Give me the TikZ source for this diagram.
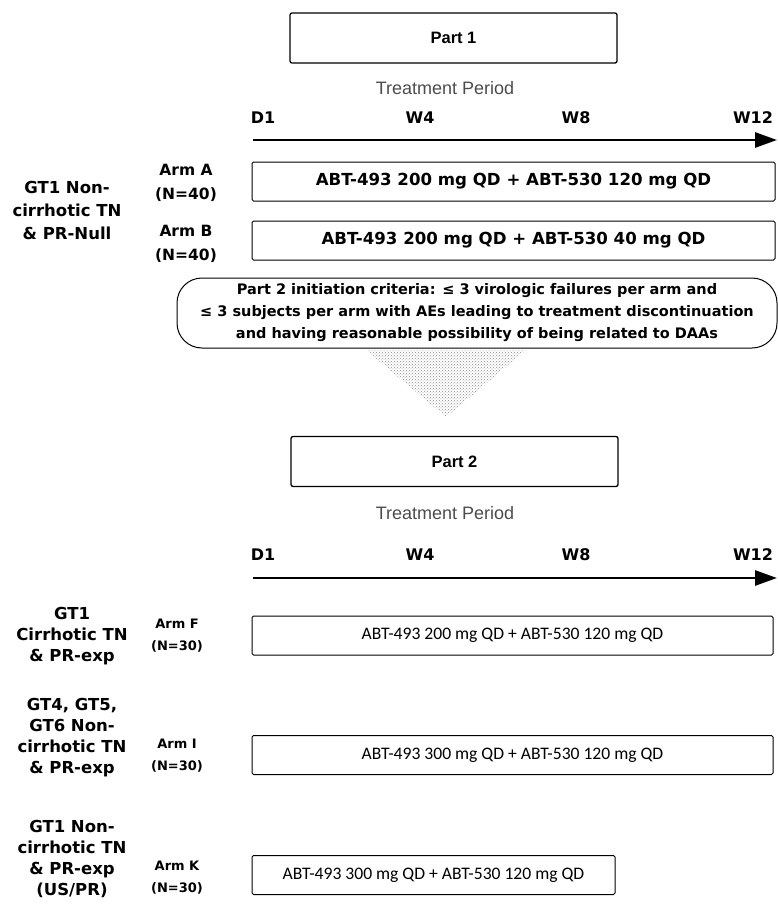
\documentclass[tikz,border=0pt]{standalone}
\usepackage{fontspec}
\setmainfont{Liberation Sans}
\newfontfamily\calib{Carlito}
\newfontfamily\dvb{DejaVu Sans}[BoldFont={DejaVu Sans Bold}]
\usetikzlibrary{arrows.meta,patterns}
\begin{document}
\begin{tikzpicture}[x=1pt,y=-1pt,
  partbox/.style={draw, line width=1.3pt, rounded corners=2pt, minimum width=327pt, minimum height=50pt, inner sep=0pt, font=\bfseries\fontsize{16.5}{18}\selectfont},
  armbox/.style={draw, line width=1pt, rounded corners=1.5pt, minimum width=523pt, minimum height=39pt, inner sep=0pt},
  armtxt/.style={font=\dvb\bfseries\fontsize{16.6}{18}\selectfont},
  armtxtb/.style={font=\calib\fontsize{17.6}{19}\selectfont},
  tick/.style={font=\dvb\bfseries\fontsize{16}{18}\selectfont},
  period/.style={font=\fontsize{18}{20}\selectfont, text=black!70},
  lbl/.style={align=center, font=\dvb\bfseries\fontsize{16.5}{23}\selectfont, inner sep=0pt},
  lblb/.style={align=center, font=\dvb\bfseries\fontsize{16.5}{21}\selectfont, inner sep=0pt},
  armlbl/.style={align=center, font=\dvb\bfseries\fontsize{15.5}{24}\selectfont, inner sep=0pt},
  armlblb/.style={align=center, font=\dvb\bfseries\fontsize{13}{22}\selectfont, inner sep=0pt},
  timeline/.style={line width=2.8pt, -{Triangle[length=22pt,width=15pt]}}
]
\useasboundingbox (0,0) rectangle (778,918);

% ---------- Part 1 ----------
\node[partbox] (p1) at (453.5,38) {Part 1};
\node[period] (tp1) at (445,88) {Treatment Period};
\node[tick] (d1a) at (263,118) {D1};
\node[tick] (w4a) at (420,118) {W4};
\node[tick] (w8a) at (576,118) {W8};
\node[tick] (w12a) at (753,118) {W12};
\coordinate (t1s) at (253,140);
\coordinate (t1e) at (777,140);
\draw[timeline] (t1s) -- (t1e);

\node[lbl] (g1) at (67,210) {GT1 Non-\\cirrhotic TN\\\& PR-Null};
\node[armlbl] (la) at (186,183) {Arm A\\(N=40)};
\node[armlbl] (lb) at (186,244) {Arm B\\(N=40)};
\node[armbox, armtxt] (ba) at (513.5,181.5) {ABT-493 200 mg QD + ABT-530 120 mg QD};
\node[armbox, armtxt] (bb) at (513.5,240.5) {ABT-493 200 mg QD + ABT-530 40 mg QD};

% ---------- transition ----------
\fill[pattern=crosshatch dots, pattern color=black!45] (366,350) -- (526,350) -- (446,417) -- cycle;
\node[draw, line width=1pt, rounded corners=25pt, minimum width=600pt, minimum height=70pt, fill=white, inner sep=0pt, align=center, font=\dvb\bfseries\fontsize{14.5}{22}\selectfont] (crit) at (477,313)
 {Part 2 initiation criteria: ≤ 3 virologic failures per arm and\\
  ≤ 3 subjects per arm with AEs leading to treatment discontinuation\\
  and having reasonable possibility of being related to DAAs};

% ---------- Part 2 ----------
\node[partbox] (p2) at (454.5,461.5) {Part 2};
\node[period] (tp2) at (445,513) {Treatment Period};
\node[tick] (d1b) at (263,555) {D1};
\node[tick] (w4b) at (420,555) {W4};
\node[tick] (w8b) at (576,555) {W8};
\node[tick] (w12b) at (753,555) {W12};
\coordinate (t2s) at (253,578);
\coordinate (t2e) at (777,578);
\draw[timeline] (t2s) -- (t2e);

\node[lblb] (gf) at (72,636) {GT1\\Cirrhotic TN\\\& PR-exp};
\node[lblb] (gi) at (72,738) {GT4, GT5,\\GT6 Non-\\cirrhotic TN\\\& PR-exp};
\node[lblb] (gk) at (72,859) {GT1 Non-\\cirrhotic TN\\\& PR-exp\\(US/PR)};
\node[armlblb] (lf) at (177,636) {Arm F\\(N=30)};
\node[armlblb] (li) at (177,756) {Arm I\\(N=30)};
\node[armlblb] (lk) at (177,878) {Arm K\\(N=30)};
\node[armbox, minimum width=521pt, armtxtb] (bf) at (512.5,635.5) {ABT-493 200 mg QD + ABT-530 120 mg QD};
\node[armbox, minimum width=521pt, armtxtb] (bi) at (512.5,755) {ABT-493 300 mg QD + ABT-530 120 mg QD};
\node[armbox, minimum width=363pt, armtxtb] (bk) at (433.5,875) {ABT-493 300 mg QD + ABT-530 120 mg QD};
\end{tikzpicture}
\end{document}
